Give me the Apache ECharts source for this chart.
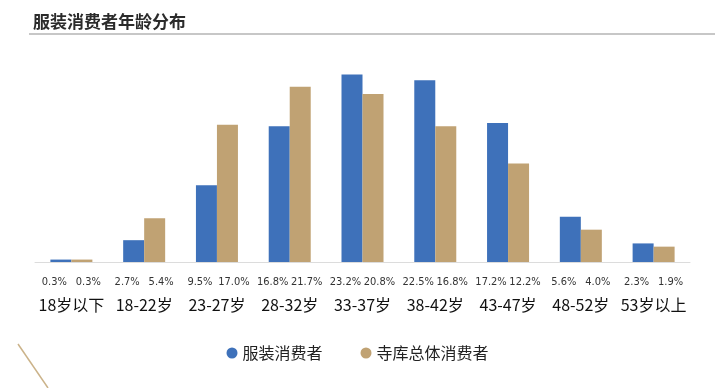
<!DOCTYPE html>
<html><head><meta charset="utf-8">
<script src="https://cdn.jsdelivr.net/npm/echarts@6/dist/echarts.min.js"></script>
<style>html,body{margin:0;padding:0;background:#fff}#c{width:715px;height:388px}</style>
</head><body><div id="c"></div>
<script>
const categories = ['18岁以下','18-22岁','23-27岁','28-32岁','33-37岁','38-42岁','43-47岁','48-52岁','53岁以上'];
const apparel = [0.3, 2.7, 9.5, 16.8, 23.2, 22.5, 17.2, 5.6, 2.3];
const overall = [0.3, 5.4, 17.0, 21.7, 20.8, 16.8, 12.2, 4.0, 1.9];
const seriesNames = ['服装消费者','寺库总体消费者'];
const titleText = '服装消费者年龄分布';

const chart = echarts.init(document.getElementById('c'));
const fmt = v => v.toFixed(1) + '%';
const pctFont = '"DejaVu Sans Condensed", "Roboto Condensed", "Liberation Sans Narrow", sans-serif';
chart.setOption({
  animation:false,
  title:{text:titleText,left:28,top:8,textStyle:{fontSize:17,fontWeight:'bold',color:'#2b2b2b',fontFamily:'Noto Sans CJK SC'}},
  graphic:[
    {type:'line',shape:{x1:29,y1:34,x2:715,y2:34},style:{stroke:'#b5b5b5',lineWidth:1.5}},
    {type:'line',shape:{x1:18,y1:344,x2:48,y2:388},style:{stroke:'#cbb38a',lineWidth:1.5}}
  ],
  color:['#3e71ba','#c0a273'],
  legend:{data:seriesNames,left:'center',top:340,icon:'circle',itemWidth:11,itemHeight:11,itemGap:38,
    textStyle:{fontSize:16,color:'#222',fontFamily:'Noto Sans CJK SC'}},
  grid:{left:35,right:25,top:60,bottom:126},
  xAxis:{type:'category',data:categories,
    axisLine:{lineStyle:{color:'#dcdcdc'}},
    axisTick:{length:5,lineStyle:{color:'#aaa'}},
    axisLabel:{margin:9,interval:0,
      formatter:(v,i)=>'{p|'+fmt(apparel[i])+'}{q|'+fmt(overall[i])+'}\n{c|'+v+'}',
      rich:{
        p:{width:34,align:'center',fontSize:11,color:'#333',fontFamily:pctFont,lineHeight:22},
        q:{width:34,align:'center',fontSize:11,color:'#333',fontFamily:pctFont,lineHeight:22},
        c:{fontSize:16,color:'#111',fontFamily:'Noto Sans CJK SC',lineHeight:24}
      }}},
  yAxis:{type:'value',min:0,max:25,show:false,splitLine:{show:false}},
  series:[
    {name:seriesNames[0],type:'bar',data:apparel,barWidth:21,barGap:'0%'},
    {name:seriesNames[1],type:'bar',data:overall,barWidth:21,barGap:'0%'}
  ]
});
</script></body></html>
